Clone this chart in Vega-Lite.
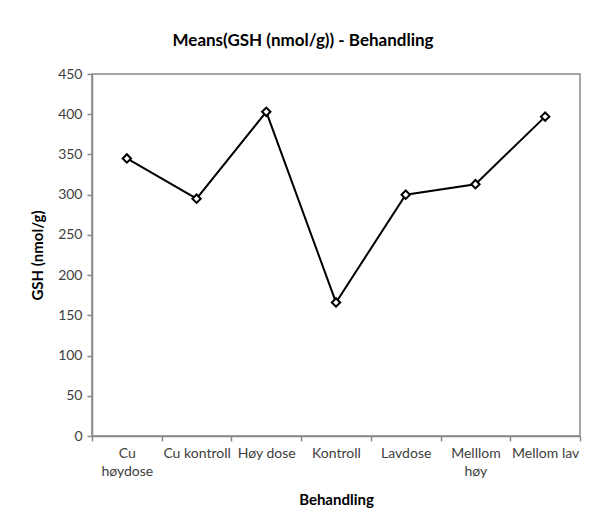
{
  "$schema": "https://vega.github.io/schema/vega-lite/v6.json",
  "width": 488,
  "height": 362,
  "autosize": {"type": "none"},
  "padding": {"left": 92, "top": 74, "right": 26, "bottom": 93},
  "background": "white",
  "title": {
    "text": "Means(GSH (nmol/g)) - Behandling",
    "font": "Lato",
    "fontSize": 17,
    "fontWeight": "bold",
    "color": "#000000",
    "offset": 17,
    "dx": -33
  },
  "config": {
    "font": "Lato",
    "view": {"stroke": "#888888", "strokeWidth": 1.5}
  },
  "data": {
    "values": [
      {"Behandling": "Cu høydose", "GSH": 345},
      {"Behandling": "Cu kontroll", "GSH": 295},
      {"Behandling": "Høy dose", "GSH": 403},
      {"Behandling": "Kontroll", "GSH": 166},
      {"Behandling": "Lavdose", "GSH": 300},
      {"Behandling": "Melllom høy", "GSH": 313},
      {"Behandling": "Mellom lav", "GSH": 397}
    ]
  },
  "encoding": {
    "x": {
      "field": "Behandling",
      "type": "nominal",
      "sort": null,
      "scale": {"type": "band", "paddingInner": 0, "paddingOuter": 0},
      "axis": {
        "labelAngle": 0,
        "labelExpr": "datum.value == 'Cu høydose' ? ['Cu', 'høydose'] : datum.value == 'Melllom høy' ? ['Melllom', 'høy'] : datum.value",
        "labelLineHeight": 18,
        "labelFontSize": 14,
        "labelColor": "#404040",
        "labelPadding": 5,
        "tickBand": "extent",
        "tickColor": "#888888",
        "tickWidth": 1.5,
        "tickSize": 5,
        "domainColor": "#888888",
        "domainWidth": 1.5,
        "title": "Behandling",
        "titleFontSize": 15,
        "titleFontWeight": "bold",
        "titleColor": "#000000",
        "titlePadding": 14
      }
    },
    "y": {
      "field": "GSH",
      "type": "quantitative",
      "scale": {"domain": [0, 450], "nice": false},
      "axis": {
        "values": [0, 50, 100, 150, 200, 250, 300, 350, 400, 450],
        "grid": false,
        "labelFontSize": 14,
        "labelColor": "#404040",
        "labelPadding": 5,
        "tickColor": "#888888",
        "tickWidth": 1.5,
        "tickSize": 5,
        "domainColor": "#888888",
        "domainWidth": 1.5,
        "title": "GSH (nmol/g)",
        "titleFontSize": 15,
        "titleFontWeight": "bold",
        "titleColor": "#000000",
        "titlePadding": 12
      }
    }
  },
  "layer": [
    {"mark": {"type": "line", "color": "#000000", "strokeWidth": 2}},
    {"mark": {"type": "point", "shape": "diamond", "filled": true, "fill": "#ffffff", "stroke": "#000000", "strokeWidth": 2, "size": 70, "opacity": 1}}
  ]
}
